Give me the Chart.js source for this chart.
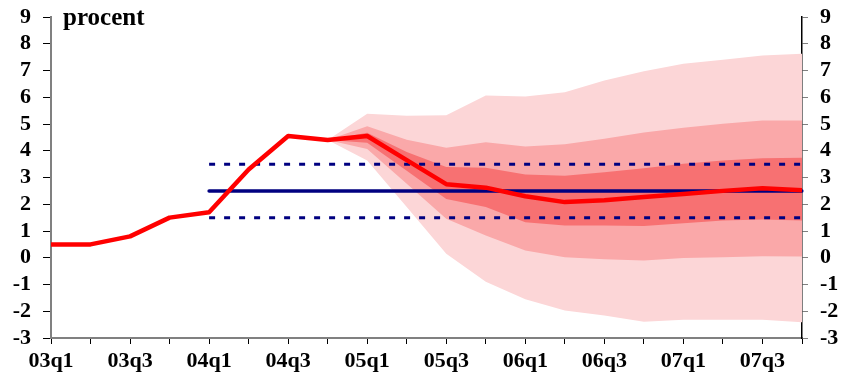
<!DOCTYPE html>
<html>
<head>
<meta charset="utf-8">
<script src="https://cdn.jsdelivr.net/npm/chart.js@4"></script>
<style>
  body { margin: 0; background: #fff; }
</style>
</head>
<body>
<canvas id="graph" width="843" height="383"></canvas>
<script>
var quarters = ['03q1', '03q2', '03q3', '03q4', '04q1', '04q2', '04q3', '04q4',
                '05q1', '05q2', '05q3', '05q4', '06q1', '06q2', '06q3', '06q4',
                '07q1', '07q2', '07q3', '07q4'];

// inflation, outcome + forecast
var inflation = [0.5, 0.5, 0.8, 1.5, 1.7, 3.3, 4.55, 4.4, 4.55, 3.65, 2.75, 2.62,
                 2.3, 2.08, 2.15, 2.27, 2.38, 2.5, 2.6, 2.52];

// target and tolerance band
var target    = [null, null, null, null, 2.5, 2.5, 2.5, 2.5, 2.5, 2.5, 2.5, 2.5, 2.5, 2.5, 2.5, 2.5, 2.5, 2.5, 2.5, 2.5];
var tolUpper  = [null, null, null, null, 3.5, 3.5, 3.5, 3.5, 3.5, 3.5, 3.5, 3.5, 3.5, 3.5, 3.5, 3.5, 3.5, 3.5, 3.5, 3.5];
var tolLower  = [null, null, null, null, 1.5, 1.5, 1.5, 1.5, 1.5, 1.5, 1.5, 1.5, 1.5, 1.5, 1.5, 1.5, 1.5, 1.5, 1.5, 1.5];

// fan chart bands
var outerUp = [null, null, null, null, null, null, null, 4.4, 5.38, 5.31, 5.33, 6.07, 6.03, 6.19, 6.63, 6.97, 7.25, 7.4, 7.56, 7.63];
var midUp   = [null, null, null, null, null, null, null, 4.4, 4.92, 4.41, 4.11, 4.32, 4.16, 4.24, 4.45, 4.68, 4.86, 5.01, 5.13, 5.13];
var innerUp = [null, null, null, null, null, null, null, 4.4, 4.67, 3.95, 3.39, 3.36, 3.11, 3.07, 3.2, 3.35, 3.51, 3.64, 3.72, 3.74];
var innerLo = [null, null, null, null, null, null, null, 4.4, 4.3, 3.25, 2.2, 1.9, 1.33, 1.21, 1.21, 1.19, 1.29, 1.39, 1.43, 1.39];
var midLo   = [null, null, null, null, null, null, null, 4.4, 4.07, 2.77, 1.46, 0.83, 0.27, 0.02, -0.06, -0.1, -0.01, 0.02, 0.06, 0.05];
var outerLo = [null, null, null, null, null, null, null, 4.4, 3.64, 1.9, 0.15, -0.9, -1.55, -1.97, -2.16, -2.39, -2.32, -2.32, -2.32, -2.41];

var yTicks = [-3, -2, -1, 0, 1, 2, 3, 4, 5, 6, 7, 8, 9];

Chart.defaults.font.family = 'Liberation Serif';
Chart.defaults.font.weight = 'bold';
Chart.defaults.font.size = 22;
Chart.defaults.color = '#000';

function band(data, color, fill) {
    return {
        data: data,
        borderWidth: 0,
        pointRadius: 0,
        backgroundColor: color,
        fill: fill
    };
}

// fixed axis sizes so the plot area sits where the original one does
function fixWidth(w) {
    return function (s) {
        s.width = w;
        s.paddingTop = 0;
        s.paddingBottom = 0;
    };
}

var procentLabel = {
    id: 'procentLabel',
    afterDraw: function (chart) {
        var ctx = chart.ctx;
        ctx.save();
        ctx.font = 'bold 25px "Liberation Serif"';
        ctx.fillStyle = '#000';
        ctx.textBaseline = 'alphabetic';
        ctx.fillText('procent', chart.chartArea.left + 12, 25);
        ctx.restore();
    }
};

var ctx = document.getElementById('graph').getContext('2d');
var graph = new Chart(ctx, {
    type: 'line',
    data: {
        labels: quarters,
        datasets: [
            {
                data: inflation,
                borderColor: '#ff0000',
                borderWidth: 4.5,
                borderJoinStyle: 'round',
                pointRadius: 0,
                fill: false
            },
            {
                data: target,
                borderColor: '#000080',
                borderWidth: 3.5,
                borderCapStyle: 'round',
                pointRadius: 0,
                fill: false
            },
            {
                data: tolUpper,
                borderColor: '#000080',
                borderWidth: 3,
                borderDash: [6, 9],
                pointRadius: 0,
                fill: false
            },
            {
                data: tolLower,
                borderColor: '#000080',
                borderWidth: 3,
                borderDash: [6, 9],
                pointRadius: 0,
                fill: false
            },
            band(innerUp, '#f77172', '+1'),
            band(innerLo, 'rgba(0,0,0,0)', false),
            band(midUp, '#faa8a9', '+1'),
            band(midLo, 'rgba(0,0,0,0)', false),
            band(outerUp, '#fcd6d7', '+1'),
            band(outerLo, 'rgba(0,0,0,0)', false)
        ]
    },
    options: {
        responsive: false,
        animation: false,
        layout: { padding: { top: 17 } },
        plugins: {
            legend: { display: false },
            tooltip: { enabled: false }
        },
        elements: { line: { tension: 0 } },
        scales: {
            x: {
                offset: false,
                afterFit: function (s) { s.height = 45; },
                grid: { drawOnChartArea: false, tickLength: 6, color: '#000', lineWidth: 1 },
                border: { color: '#808080', width: 2 },
                ticks: {
                    autoSkip: false,
                    maxRotation: 0,
                    padding: 4,
                    callback: function (v, i) { return i % 2 === 0 ? quarters[i] : ''; }
                }
            },
            y: {
                position: 'left',
                min: -3,
                max: 9,
                afterFit: fixWidth(51),
                afterBuildTicks: function (s) { s.ticks = yTicks.map(v => ({ value: v })); },
                grid: { drawOnChartArea: false, tickLength: 8, color: '#000', lineWidth: 1 },
                border: { color: '#808080', width: 2 },
                ticks: { autoSkip: false, padding: 12 }
            },
            y2: {
                position: 'right',
                min: -3,
                max: 9,
                afterFit: fixWidth(41),
                afterBuildTicks: function (s) { s.ticks = yTicks.map(v => ({ value: v })); },
                grid: { drawOnChartArea: false, tickLength: 6, color: '#808080', lineWidth: 1 },
                border: { color: '#000', width: 1.5 },
                ticks: { autoSkip: false, padding: 12 }
            }
        }
    },
    plugins: [procentLabel]
});
</script>
</body>
</html>
